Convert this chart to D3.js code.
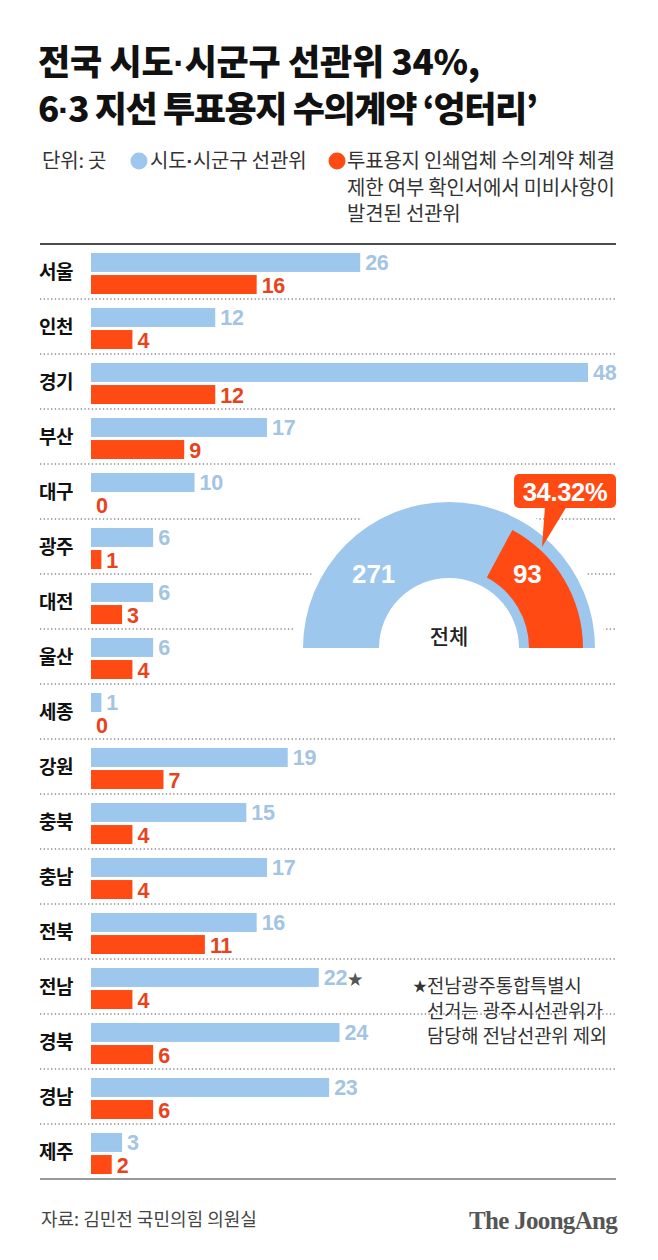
<!DOCTYPE html>
<html><head><meta charset="utf-8">
<script src="https://cdn.jsdelivr.net/npm/d3@7"></script>
<style>
html,body{margin:0;padding:0;background:#fff;}
svg{display:block;}
</style></head>
<body>
<svg id="chart" width="658" height="1260"></svg>
<script>
const regions = ["서울","인천","경기","부산","대구","광주","대전","울산","세종","강원","충북","충남","전북","전남","경북","경남","제주"];
const totalCommittees = [26,12,48,17,10,6,6,6,1,19,15,17,16,22,24,23,3];
const flaggedCommittees = [16,4,12,9,0,1,3,4,0,7,4,4,11,4,6,6,2];
const starRegion = "전남";
const donutTotal = 271;
const donutFlagged = 93;
const donutPct = "34.32%";
const titleLines = [["전국 시도","·","시군구 선관위 34%,"], ["6","·","3 지선 투표용지 수의계약 ‘엉터리’"]];
const titleSpacing = [-0.3, -1.4];
const legendUnit = "단위: 곳";
const legendBlue = ["시도","·","시군구 선관위"];
const legendOrangeLines = ["투표용지 인쇄업체 수의계약 체결", "제한 여부 확인서에서 미비사항이", "발견된 선관위"];
const noteLines = ["전남광주통합특별시", "선거는 광주시선관위가", "담당해 전남선관위 제외"];
const sourceText = "자료: 김민전 국민의힘 의원실";
const brandText = "The JoongAng";

const BLUE = "#9dc7ec", ORANGE = "#ff4a14", BLUE_TXT = "#a3c4e2", ORANGE_TXT = "#e8441c";
const KR = "'Noto Sans CJK KR','Noto Sans',sans-serif";
const NUM = "'Liberation Sans',Arial,sans-serif";

const svg = d3.select("#chart");

function addParts(sel, parts){
  parts.forEach((p,i)=>{
    const t = sel.append("tspan").text(p);
    if (p === "·") t.attr("font-family", NUM).attr("font-weight", 700);
  });
}

// Title
const tg = svg.append("g").attr("font-family", KR).attr("font-weight", 900).attr("font-size", 35)
  .attr("fill", "#111");
titleLines.forEach((parts,i)=>{
  addParts(tg.append("text").attr("x", 38).attr("y", 75 + i*47).attr("letter-spacing", titleSpacing[i]), parts);
});

// Legend
const lg = svg.append("g").attr("font-family", KR).attr("font-size", 20).attr("fill", "#333").attr("letter-spacing", -0.2);
lg.append("text").attr("x", 42).attr("y", 168).text(legendUnit);
lg.append("circle").attr("cx", 139).attr("cy", 161).attr("r", 8.5).attr("fill", BLUE);
addParts(lg.append("text").attr("x", 150).attr("y", 168).attr("letter-spacing", -0.2), legendBlue);
lg.append("circle").attr("cx", 337).attr("cy", 161).attr("r", 8.5).attr("fill", ORANGE);
lg.selectAll("text.o").data(legendOrangeLines).join("text").attr("class","o")
  .attr("x", 347).attr("y", (d,i)=>168 + i*26.5).text(d=>d);

// Scales
const y = d3.scaleBand().domain(regions).range([244, 1179]).paddingInner(0);
const x = d3.scaleLinear().domain([0, 48]).range([91, 588]);
const sub = d3.scaleBand().domain(["t","f"]).range([9, 50]).paddingInner(0.14);

const data = regions.map((r,i)=>({r, t: totalCommittees[i], f: flaggedCommittees[i]}));

// Separators
svg.append("g").selectAll("line").data(regions.slice(0, -1)).join("line")
  .attr("x1", 40).attr("x2", 616)
  .attr("y1", d=>y(d)+y.bandwidth()).attr("y2", d=>y(d)+y.bandwidth())
  .attr("stroke", "#8a8a8a").attr("stroke-width", 1.3).attr("stroke-dasharray", "1.3,2.4");

svg.append("line").attr("x1",40).attr("x2",616).attr("y1",244).attr("y2",244).attr("stroke","#111").attr("stroke-width",1.6);
svg.append("line").attr("x1",40).attr("x2",616).attr("y1",1179).attr("y2",1179).attr("stroke","#777").attr("stroke-width",1.4);

// Region labels
svg.append("g").selectAll("text").data(data).join("text")
  .attr("x", 39).attr("y", d=>y(d.r)+y.bandwidth()/2+7)
  .attr("font-family", KR).attr("font-weight", 700).attr("font-size", 19)
  .attr("letter-spacing", -0.5).attr("fill", "#111").text(d=>d.r);

// Bars
const bars = svg.append("g");
bars.selectAll("rect.t").data(data).join("rect").attr("class","t")
  .attr("x", x(0)).attr("y", d=>y(d.r)+sub("t")).attr("height", sub.bandwidth())
  .attr("width", d=>x(d.t)-x(0)).attr("fill", BLUE);
bars.selectAll("rect.f").data(data).join("rect").attr("class","f")
  .attr("x", x(0)).attr("y", d=>y(d.r)+sub("f")).attr("height", sub.bandwidth())
  .attr("width", d=>x(d.f)-x(0)).attr("fill", ORANGE);

// Value labels
const vt = svg.append("g").attr("font-family", NUM).attr("font-weight", 700).attr("font-size", 21.5).attr("letter-spacing", -0.3);
const tl = vt.selectAll("text.t").data(data).join("text").attr("class","t")
  .attr("x", d=>x(d.t)+5).attr("y", d=>y(d.r)+sub("t")+sub.bandwidth()/2+8)
  .attr("fill", BLUE_TXT).text(d=>d.t);
tl.filter(d=>d.r===starRegion).append("tspan").attr("fill","#555").attr("font-size",16).attr("dx",1).text("★");
vt.selectAll("text.f").data(data).join("text").attr("class","f")
  .attr("x", d=>x(d.f)+5).attr("y", d=>y(d.r)+sub("f")+sub.bandwidth()/2+8)
  .attr("fill", ORANGE_TXT).text(d=>d.f);

// Donut (half)
const cx = 449, cy = 648;
const ang = d3.scaleLinear().domain([0, donutTotal]).range([-Math.PI/2, Math.PI/2]);
const dg = svg.append("g").attr("transform", `translate(${cx},${cy})`);
dg.append("path").attr("d", d3.arc()({innerRadius:0, outerRadius:156, startAngle:-Math.PI/2, endAngle:Math.PI/2})).attr("fill","#fff");
dg.append("path").attr("d", d3.arc()({innerRadius:70, outerRadius:146, startAngle:ang(0), endAngle:ang(donutTotal)})).attr("fill", BLUE);
dg.append("path").attr("d", d3.arc()({innerRadius:80, outerRadius:134, startAngle:ang(donutTotal-donutFlagged), endAngle:ang(donutTotal)})).attr("fill", ORANGE);
const lr = 108;
dg.append("text").attr("x", -lr*Math.sin(Math.PI/4)+1).attr("y", -lr*Math.cos(Math.PI/4)+11)
  .attr("text-anchor","middle").attr("font-family",NUM).attr("font-weight",700).attr("font-size",26).attr("fill","#fff").text(donutTotal);
dg.append("text").attr("x", lr*Math.sin(Math.PI/4)+2).attr("y", -lr*Math.cos(Math.PI/4)+11)
  .attr("text-anchor","middle").attr("font-family",NUM).attr("font-weight",700).attr("font-size",26).attr("fill","#fff").text(donutFlagged);
dg.append("text").attr("x", 0).attr("y", -4).attr("text-anchor","middle")
  .attr("font-family",KR).attr("font-weight",500).attr("font-size",21).attr("fill","#222").text("전체");

// Callout
const co = svg.append("g");
co.append("path").attr("d", "M545,506 L567,506 L542,547 Z").attr("fill", ORANGE);
co.append("rect").attr("x",514).attr("y",474).attr("width",102).attr("height",34).attr("rx",5).attr("fill",ORANGE);
co.append("text").attr("x",565).attr("y",501).attr("text-anchor","middle")
  .attr("font-family",NUM).attr("font-weight",700).attr("font-size",25.5).attr("letter-spacing",-0.3).attr("fill","#fff").text(donutPct);

// Note
const nt = svg.append("g").attr("font-family",KR).attr("font-size",18.8).attr("fill","#333").attr("letter-spacing",-0.1);
nt.selectAll("text").data(noteLines).join("text")
  .attr("x", 427).attr("y", (d,i)=>993 + i*25).text(d=>d);
nt.append("text").attr("x", 413).attr("y", 991).attr("font-size",14).text("★");

// Footer
svg.append("text").attr("x",41).attr("y",1226).attr("font-family",KR).attr("font-size",18)
  .attr("letter-spacing",0).attr("fill","#444").text(sourceText);
svg.append("text").attr("x",617).attr("y",1229).attr("text-anchor","end")
  .attr("font-family","'Liberation Serif','DejaVu Serif',serif").attr("font-weight",700)
  .attr("font-size",25).attr("letter-spacing",-0.7).attr("fill","#555").text(brandText);
</script>
</body></html>
